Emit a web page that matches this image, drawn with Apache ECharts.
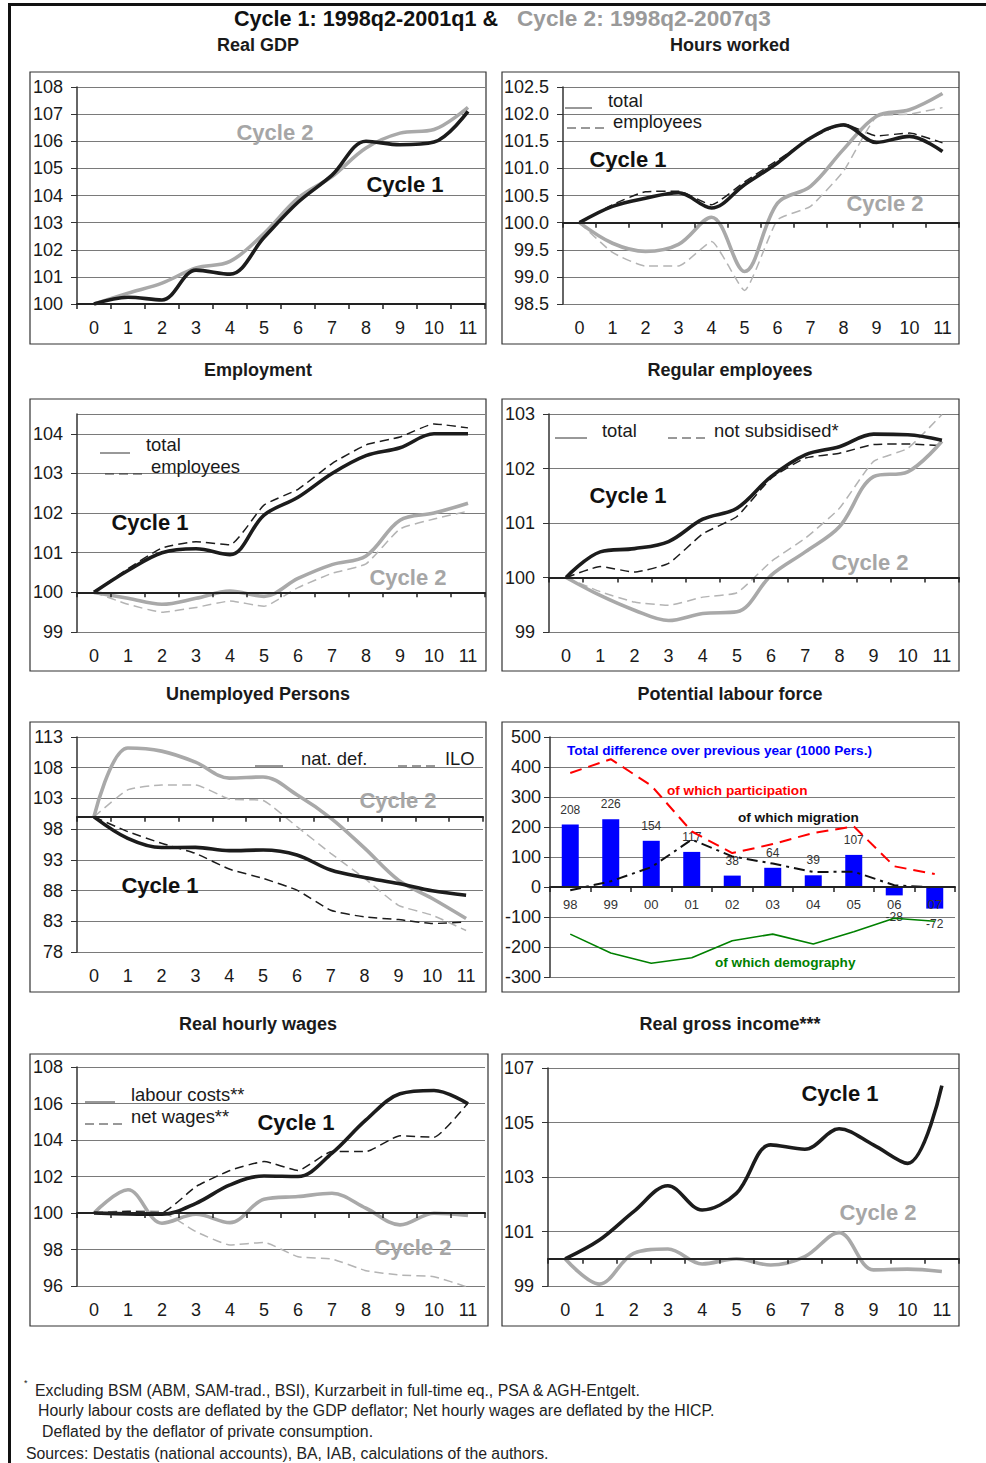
<!DOCTYPE html>
<html><head><meta charset="utf-8">
<script src="https://cdn.jsdelivr.net/npm/echarts@6/dist/echarts.min.js"></script>
<style>html,body{margin:0;padding:0;background:#fff}#c{width:986px;height:1463px}</style>
</head><body><div id="c"></div>
<script>
// ---------- data ----------
const quarters = ['0','1','2','3','4','5','6','7','8','9','10','11'];
const years = ['98','99','00','01','02','03','04','05','06','07'];

// Real GDP
const gdpCycle1 = [100, 100.25, 100.15, 101.25, 101.1, 102.45, 103.75, 104.75, 106.0, 105.87, 105.97, 107.1];
const gdpCycle2 = [100, 100.4, 100.77, 101.33, 101.57, 102.6, 103.9, 104.7, 105.75, 106.3, 106.43, 107.25];
// Hours worked
const hoursTotalC1 = [100, 100.3, 100.45, 100.55, 100.27, 100.7, 101.1, 101.56, 101.8, 101.48, 101.59, 101.31];
const hoursEmplC1  = [100, 100.33, 100.57, 100.58, 100.33, 100.75, 101.15, 101.55, 101.82, 101.6, 101.65, 101.47];
const hoursTotalC2 = [100, 99.62, 99.47, 99.6, 100.1, 99.1, 100.36, 100.67, 101.35, 101.96, 102.08, 102.38];
const hoursEmplC2  = [100, 99.45, 99.2, 99.2, 99.65, 98.75, 100.05, 100.3, 100.95, 101.95, 102.0, 102.12];
// Employment
const emplTotalC1 = [100, 100.55, 101.0, 101.1, 100.95, 101.95, 102.4, 103.0, 103.45, 103.65, 104.0, 104.0];
const emplEmpC1   = [100, 100.6, 101.12, 101.28, 101.2, 102.2, 102.6, 103.25, 103.72, 103.92, 104.25, 104.15];
const emplTotalC2 = [100, 99.85, 99.7, 99.85, 100.03, 99.9, 100.35, 100.7, 100.92, 101.82, 102.0, 102.25];
const emplEmpC2   = [100, 99.7, 99.5, 99.62, 99.78, 99.65, 100.12, 100.48, 100.72, 101.6, 101.85, 102.05];
// Regular employees
const regTotalC1  = [100, 100.47, 100.53, 100.66, 101.07, 101.27, 101.85, 102.25, 102.4, 102.63, 102.62, 102.52];
const regNotSubC1 = [100, 100.2, 100.1, 100.26, 100.8, 101.12, 101.82, 102.19, 102.28, 102.44, 102.45, 102.42];
const regTotalC2  = [100, 99.67, 99.4, 99.21, 99.34, 99.37, 100.04, 100.47, 100.93, 101.85, 101.94, 102.5];
const regNotSubC2 = [100, 99.74, 99.55, 99.49, 99.64, 99.72, 100.29, 100.72, 101.27, 102.13, 102.37, 102.99];
// Unemployed persons
const unempNatC1 = [100, 96.5, 95.0, 95.04, 94.5, 94.6, 93.8, 91.34, 90.14, 89.16, 87.96, 87.25];
const unempIloC1 = [100, 97.6, 95.7, 94.06, 91.5, 89.98, 88.07, 84.8, 83.7, 83.28, 82.63, 82.9];
const unempNatC2 = [100, 111.2, 110.7, 108.9, 106.3, 106.5, 103.6, 99.8, 94.9, 89.7, 86.7, 83.44];
const unempIloC2 = [100, 104.4, 105.2, 105.2, 102.9, 102.66, 98.4, 94.06, 89.98, 85.6, 83.99, 81.5];
// Potential labour force (1000 persons)
const plfTotal         = [208, 226, 154, 117, 38, 64, 39, 107, -28, -72];
const plfParticipation = [380, 426, 338, 185, 113, 143, 180, 202, 69, 43];
const plfMigration     = [-11, 19, 66, 158, 102, 78, 50, 51, 6, -2];
const plfDemography    = [-157, -220, -254, -236, -179, -157, -190, -149, -104, -114];
// Real hourly wages
const wageLabourC1 = [100, 99.95, 99.93, 100.53, 101.54, 102.03, 102.0, 103.28, 105.1, 106.53, 106.71, 105.98];
const wageNetC1    = [100, 100.08, 100.03, 101.45, 102.33, 102.82, 102.33, 103.37, 103.37, 104.23, 104.15, 106.02];
const wageLabourC2 = [100, 101.27, 99.44, 99.93, 99.47, 100.75, 100.9, 101.08, 100.26, 99.35, 99.99, 99.86];
const wageNetC2    = [100, 100.13, 100.07, 98.98, 98.25, 98.39, 97.6, 97.48, 96.84, 96.6, 96.51, 95.93];
// Real gross income
const incomeC1 = [100, 100.69, 101.73, 102.68, 101.79, 102.4, 104.18, 104.02, 104.77, 104.18, 103.5, 106.35];
const incomeC2 = [100, 99.07, 100.2, 100.36, 99.81, 100.0, 99.77, 100.08, 100.96, 99.59, 99.62, 99.53];

// ---------- styles ----------
const BLACK = '#1c1c1c', GRAY = '#a9a9a9', GRAYD = '#b4b4b4';
const FONT = '"Liberation Sans", Arial, sans-serif';
const styles = {
  c1: {color: BLACK, width: 3.6, type: 'solid', smooth: 0.35, z: 4},
  c2: {color: GRAY, width: 3.6, type: 'solid', smooth: 0.35, z: 3},
  d1: {color: BLACK, width: 1.5, type: [9, 5], smooth: 0.15, z: 2},
  d2: {color: GRAYD, width: 1.5, type: [9, 5], smooth: 0.15, z: 2}
};

const panels = [
  {grid: {left: 77, top: 87, width: 408, height: 217}, y: {min: 100, max: 108, interval: 1}, base: 100,
   series: [[gdpCycle1, 'c1'], [gdpCycle2, 'c2']]},
  {grid: {left: 563, top: 87, width: 396, height: 217}, y: {min: 98.5, max: 102.5, interval: 0.5, dec: 1}, base: 100,
   series: [[hoursEmplC2, 'd2'], [hoursEmplC1, 'd1'], [hoursTotalC2, 'c2'], [hoursTotalC1, 'c1']]},
  {grid: {left: 77, top: 414, width: 408, height: 218}, y: {min: 99, max: 104.5, interval: 1, hideMax: true}, base: 100,
   series: [[emplEmpC2, 'd2'], [emplEmpC1, 'd1'], [emplTotalC2, 'c2'], [emplTotalC1, 'c1']]},
  {grid: {left: 549, top: 414, width: 410, height: 218}, y: {min: 99, max: 103, interval: 1}, base: 100,
   series: [[regNotSubC2, 'd2'], [regNotSubC1, 'd1'], [regTotalC2, 'c2'], [regTotalC1, 'c1']]},
  {grid: {left: 77, top: 737, width: 406, height: 215}, y: {min: 78, max: 113, interval: 5}, base: 100,
   series: [[unempIloC2, 'd2'], [unempIloC1, 'd1'], [unempNatC2, 'c2'], [unempNatC1, 'c1']]},
  {grid: {left: 550, top: 737, width: 405, height: 240}, y: {min: -300, max: 500, interval: 100}, base: 0, bars: true},
  {grid: {left: 77, top: 1067, width: 408, height: 219}, y: {min: 96, max: 108, interval: 2}, base: 100,
   series: [[wageNetC2, 'd2'], [wageNetC1, 'd1'], [wageLabourC2, 'c2'], [wageLabourC1, 'c1']]},
  {grid: {left: 548, top: 1068, width: 411, height: 218}, y: {min: 99, max: 107, interval: 2}, base: 100,
   series: [[incomeC2, 'c2'], [incomeC1, 'c1']]}
];

const option = {animation: false, grid: [], xAxis: [], yAxis: [], series: [], graphic: []};

panels.forEach((p, i) => {
  option.grid.push(Object.assign({show: false}, p.grid));
  option.yAxis.push({
    type: 'value', gridIndex: i, min: p.y.min, max: p.y.max, interval: p.y.interval,
    axisLine: {show: true, lineStyle: {color: '#333', width: 1.5}},
    axisTick: {show: true, length: 6, lineStyle: {color: '#333'}},
    axisLabel: {color: '#1a1a1a', fontSize: 18, fontFamily: FONT, margin: p.bars ? 9 : 14,
      showMaxLabel: !p.y.hideMax,
      formatter: v => p.y.dec ? v.toFixed(p.y.dec) : String(v)},
    splitLine: {show: true, lineStyle: {color: '#7a7a7a', width: 1}}
  });
  const off = -(p.base - p.y.min) / (p.y.max - p.y.min) * p.grid.height;
  if (p.bars) {
    const xi = option.xAxis.length;
    option.xAxis.push({
      type: 'category', gridIndex: i, data: years, position: 'bottom', offset: off,
      axisLine: {show: true, onZero: false, lineStyle: {color: '#222', width: 2}},
      axisTick: {show: true, length: 5, lineStyle: {color: '#222', width: 1.5}},
      axisLabel: {color: '#333', fontSize: 13, fontFamily: FONT, margin: 11}, z: 5
    });
    option.series.push({
      type: 'bar', xAxisIndex: xi, yAxisIndex: i, barWidth: 17,
      itemStyle: {color: '#0000ff'},
      data: plfTotal.map(v => ({value: v,
        label: {position: v < 0 ? 'bottom' : 'top', distance: (v < 0 && v > -50) ? 16 : 9}})),
      label: {show: true, distance: 9, color: '#333', fontSize: 12, fontFamily: FONT}, z: 2
    });
    option.series.push({type: 'line', xAxisIndex: xi, yAxisIndex: i, data: plfParticipation, symbol: 'none',
      lineStyle: {color: '#ff0000', width: 2, type: [12, 7]}, z: 3});
    option.series.push({type: 'line', xAxisIndex: xi, yAxisIndex: i, data: plfMigration, symbol: 'none',
      lineStyle: {color: '#111', width: 2, type: [11, 5, 3, 5]}, z: 3});
    option.series.push({type: 'line', xAxisIndex: xi, yAxisIndex: i, data: plfDemography, symbol: 'none',
      lineStyle: {color: '#008000', width: 1.6}, z: 3});
    return;
  }
  const xi = option.xAxis.length;
  option.xAxis.push({
    type: 'category', gridIndex: i, data: quarters, position: 'bottom',
    axisLine: {show: false}, axisTick: {show: false}, splitLine: {show: false},
    axisLabel: {color: '#1a1a1a', fontSize: 18, fontFamily: FONT, margin: 15}
  });
  option.xAxis.push({
    type: 'category', gridIndex: i, data: quarters, position: 'bottom', offset: off,
    axisLine: {show: true, onZero: false, lineStyle: {color: '#222', width: 2}},
    axisTick: {show: true, length: 5, lineStyle: {color: '#222', width: 1.5}},
    axisLabel: {show: false}, splitLine: {show: false}, z: 5
  });
  p.series.forEach(([data, k]) => {
    const s = styles[k];
    option.series.push({type: 'line', xAxisIndex: xi, yAxisIndex: i, data: data, symbol: 'none',
      smooth: s.smooth, z: s.z, lineStyle: {color: s.color, width: s.width, type: s.type}});
  });
});

// ---------- graphics: frame, boxes, texts ----------
const G = option.graphic;
function rect(x, y, w, h) {
  G.push({type: 'rect', shape: {x, y, width: w, height: h}, style: {fill: 'none', stroke: '#333', lineWidth: 1.2}, z: 1});
}
function line(x1, y1, x2, y2, dash, color, w) {
  G.push({type: 'line', shape: {x1, y1, x2, y2}, style: {stroke: color || '#333', lineWidth: w || 1, lineDash: dash || null}, z: 10});
}
function text(x, y, t, o) {
  o = o || {};
  G.push({type: 'text', z: 10, style: {x, y, text: t, fill: o.fill || '#1a1a1a',
    font: (o.weight || 'normal') + ' ' + (o.size || 17) + 'px ' + (o.family || FONT),
    textAlign: o.align || 'left', textVerticalAlign: 'middle'}});
}
// page frame
G.push({type: 'rect', shape: {x: 8, y: 3, width: 3, height: 1460}, style: {fill: '#111'}, z: 1});
G.push({type: 'rect', shape: {x: 8, y: 3, width: 978, height: 3}, style: {fill: '#111'}, z: 1});
// panel boxes
rect(30, 72, 456, 272); rect(502, 72, 457, 272);
rect(30, 399, 456, 272); rect(502, 399, 457, 272);
rect(30, 722, 456, 270); rect(502, 722, 457, 270);
rect(30, 1054, 458, 272); rect(502, 1054, 457, 272);

// main title
text(498, 18, 'Cycle 1: 1998q2-2001q1 &', {weight: 'bold', size: 21.6, align: 'right', fill: '#111'});
text(517, 18, 'Cycle 2: 1998q2-2007q3', {weight: 'bold', size: 22.6, fill: '#9a9a9a'});
// panel titles
const T = {weight: 'bold', size: 18, align: 'center', fill: '#1a1a1a'};
text(258, 45, 'Real GDP', T); text(730, 45, 'Hours worked', T);
text(258, 370, 'Employment', T); text(730, 370, 'Regular employees', T);
text(258, 694, 'Unemployed Persons', T); text(730, 694, 'Potential labour force', T);
text(258, 1024, 'Real hourly wages', T); text(730, 1024, 'Real gross income***', T);

// cycle labels
const C1 = {weight: 'bold', size: 22, align: 'center', fill: '#111'};
const C2 = {weight: 'bold', size: 22, align: 'center', fill: '#a6a6a6'};
text(275, 132, 'Cycle 2', C2); text(405, 184, 'Cycle 1', C1);
text(628, 159, 'Cycle 1', C1); text(885, 203, 'Cycle 2', C2);
text(150, 522, 'Cycle 1', C1); text(408, 577, 'Cycle 2', C2);
text(628, 495, 'Cycle 1', C1); text(870, 562, 'Cycle 2', C2);
text(398, 800, 'Cycle 2', C2); text(160, 885, 'Cycle 1', C1);
text(296, 1122, 'Cycle 1', C1); text(413, 1247, 'Cycle 2', C2);
text(840, 1093, 'Cycle 1', C1); text(878, 1212, 'Cycle 2', C2);

// legends
const L = {size: 18.4};
const DASH = [9, 5];
line(565, 108, 592, 108); text(608, 100, 'total', L);
line(567, 128, 608, 128, DASH); text(613, 121, 'employees', L);
line(100, 453, 130, 453); text(146, 444, 'total', L);
line(105, 474, 146, 474, DASH); text(151, 466, 'employees', L);
line(555, 438, 587, 438); text(602, 430, 'total', L);
line(668, 438, 708, 438, DASH); text(714, 430, 'not subsidised*', L);
line(255, 766, 283, 766); text(301, 758, 'nat. def.', L);
line(398, 766, 438, 766, DASH); text(445, 758, 'ILO', L);
line(85, 1102, 115, 1102); text(131, 1094, 'labour costs**', L);
line(85, 1124, 125, 1124, DASH); text(131, 1116, 'net wages**', L);

// potential labour force annotations
const A = 13.6;
text(567, 750, 'Total difference over previous year (1000 Pers.)', {weight: 'bold', size: A, fill: '#0000ff'});
text(667, 790, 'of which participation', {weight: 'bold', size: A, fill: '#ff0000'});
text(738, 817, 'of which migration', {weight: 'bold', size: A, fill: '#111'});
text(715, 962, 'of which demography', {weight: 'bold', size: A, fill: '#008000'});

// footnotes
const F = {size: 15.8, fill: '#222'};
text(24, 1383, '*', {size: 9, fill: '#222'});
text(35, 1390, 'Excluding BSM (ABM, SAM-trad., BSI), Kurzarbeit in full-time eq., PSA & AGH-Entgelt.', F);
text(38, 1410, 'Hourly labour costs are deflated by the GDP deflator; Net hourly wages are deflated by the HICP.', F);
text(42, 1431, 'Deflated by the deflator of private consumption.', F);
text(26, 1453, 'Sources: Destatis (national accounts), BA, IAB, calculations of the authors.', F);

const chart = echarts.init(document.getElementById('c'), null, {renderer: 'svg', width: 986, height: 1463});
chart.setOption(option);
</script>
</body></html>
